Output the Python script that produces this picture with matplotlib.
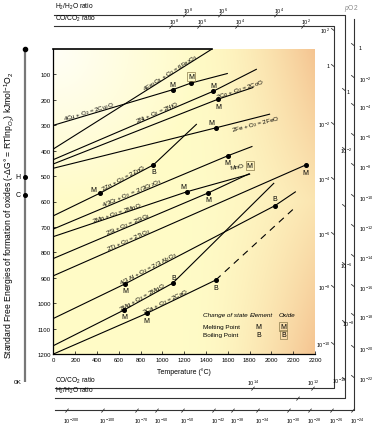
import numpy as np
import matplotlib
matplotlib.use("Agg")
import matplotlib.pyplot as plt

plt.rcParams['font.family'] = ['Liberation Sans', 'DejaVu Sans']
plt.rcParams['mathtext.fontset'] = 'custom'
plt.rcParams['mathtext.rm'] = 'Liberation Sans'
plt.rcParams['mathtext.it'] = 'Liberation Sans:italic'

# ---- data: temperature (C) / -dG (kJ per mol O2) along each oxide line ----
t_cu = [0, 1095, 1261, 1600];        g_cu = [300, 160, 134, 96]
t_fe3o4 = [0, 1455];                 g_fe3o4 = [393, 0]
t_ni = [0, 1467, 1866];              g_ni = [435, 166, 79]
t_co = [0, 1513, 1835];              g_co = [452, 197, 151]
t_fe = [0, 1492, 1988];              g_fe = [469, 310, 256]
t_zn = [0, 427, 917, 1315];          g_zn = [656, 567, 456, 295]
t_cr = [0, 1600, 1826];              g_cr = [708, 420, 383]
t_mn = [0, 1229, 1805];              g_mn = [738, 561, 492]
t_si = [0, 1421, 1800];              g_si = [824, 566, 490]
t_ti = [0, 2316];                    g_ti = [892, 456]
t_al = [0, 657, 2034, 2224];         g_al = [1060, 924, 616, 561]
t_mg = [0, 647, 1095, 2025];         g_mg = [1167, 1027, 921, 527]
t_ca = [0, 856, 1489];               g_ca = [1200, 1040, 909]
t_ca_dash = [1489, 2211];            g_ca_dash = [909, 626]

# change-of-state points: (T, G, letter, boxed)
melt_pts = [(1095, 160, 'M', False), (1261, 134, 'M', True), (1467, 166, 'M', False),
            (1513, 197, 'M', False), (1492, 310, 'M', False), (427, 567, 'M', False),
            (917, 456, 'B', False), (1600, 420, 'M', False), (1229, 561, 'M', False),
            (1421, 566, 'M', False), (2316, 456, 'M', False), (657, 924, 'M', False),
            (2034, 616, 'B', False), (647, 1027, 'M', False), (1095, 921, 'B', False),
            (856, 1040, 'M', False), (1489, 909, 'B', False)]
# label offsets (points) for the letters
melt_off = [(0, 4), (0, 5), (0, 4), (0, -5), (-3.6, 3.6), (-5, 2.4), (0, -4.5), (0, -5),
            (-3, 4), (0, -5), (0, -5.5), (0, -5), (0, 5), (0, -5), (1, 4.3), (0, -5), (0, -5.5)]

reactions = ['4Cu + O$_2$ = 2Cu$_2$O', '4Fe$_3$O$_4$ + O$_2$ = 6Fe$_2$O$_3$',
             '2Ni + O$_2$ = 2NiO', '2Co + O$_2$ = 2CoO', '2Fe + O$_2$ = 2FeO',
             '2Zn + O$_2$ = 2ZnO', '4/3Cr + O$_2$ =  2/3Cr$_2$O$_3$', '2Mn + O$_2$ = 2MnO',
             '2Si + O$_2$ = 2SiO$_2$', '2Ti + O$_2$ = 2TiO$_2$',
             '4/3 Al + O$_2$ = 2/3 Al$_2$O$_3$', '2Mg + O$_2$ = 2MgO', '2Ca + O$_2$ = 2CaO']
react_t = [335, 1088, 960, 1728, 1841, 657, 733, 595, 693, 702, 886, 831, 1045]
react_side = [1, 1, 1, 1, -1, 1, 1, 1, 1, 1, 1, 1, 1]

xticks = [0, 200, 400, 600, 800, 1000, 1200, 1400, 1600, 1800, 2000, 2200, 2400]
xtick_labels = ['0', '200', '400', '600', '800', '1000', '1200', '1400', '1600',
                '1800', '2000', '2200', '2200']
yticks = [100, 200, 300, 400, 500, 600, 700, 800, 900, 1000, 1100, 1200]

W, H = 377, 431
fig = plt.figure(figsize=(W / 100, H / 100), dpi=100)
fig.patch.set_facecolor('white')

# overlay in pixel coordinates for the nomogram scales
ov = fig.add_axes([0, 0, 1, 1])
ov.set_xlim(0, W)
ov.set_ylim(H, 0)
ov.axis('off')

ax = fig.add_axes([53.5 / W, 1 - 355 / H, (315 - 53.5) / W, (355 - 50) / H])
ax.set_xlim(0, 2400)
ax.set_ylim(1200, 0)

# background gradient
nx, ny = 200, 200
xx, yy = np.meshgrid(np.linspace(0, 1, nx), np.linspace(0, 1, ny))
base = np.array([1.0, 0.985, 0.78])
white = np.array([1.0, 1.0, 0.97])
peach = np.array([0.96, 0.77, 0.57])
w = np.clip(1 - np.sqrt((xx / 0.55) ** 2 + (yy / 0.5) ** 2), 0, 1)[..., None]
p = (np.clip((xx - 0.5) / 0.5, 0, 1) ** 1.8 * (0.4 + 0.6 * np.abs(yy - 0.5) * 2))[..., None]
img = base * (1 - w) + white * w
img = img * (1 - p) + peach * p
ax.imshow(img, extent=[0, 2400, 1200, 0], aspect='auto', zorder=0)

line_sets = [(t_cu, g_cu), (t_fe3o4, g_fe3o4), (t_ni, g_ni), (t_co, g_co), (t_fe, g_fe),
             (t_zn, g_zn), (t_cr, g_cr), (t_mn, g_mn), (t_si, g_si), (t_ti, g_ti),
             (t_al, g_al), (t_mg, g_mg), (t_ca, g_ca)]
lw = 0.8
for t, g in line_sets:
    ax.plot(t, g, color='black', lw=lw, zorder=3, solid_capstyle='butt')
ax.plot(t_ca_dash, g_ca_dash, color='black', lw=lw, ls=(0, (6, 5)), zorder=3)
ax.plot([0, t_fe3o4[1]], [0, 0], color='black', lw=1.2, zorder=3, clip_on=False)

for (t, g, s, boxed), (dx, dy) in zip(melt_pts, melt_off):
    ax.plot(t, g, 'o', color='black', ms=2.6, zorder=4)
    kw = dict(fontsize=5, ha='center', va='center', zorder=5)
    if boxed:
        kw['bbox'] = dict(boxstyle='square,pad=0.15', fc='none', ec='#8a7a4a', lw=0.5)
    ax.annotate(s, (t, g), xytext=(dx, dy), textcoords='offset points', **kw)


def label_on_line(t, g, tq, txt, side):
    tt = np.array(t, float)
    gg = np.array(g, float)
    i = int(np.clip(np.searchsorted(tt, tq) - 1, 0, len(tt) - 2))
    p0 = ax.transData.transform((tt[i], gg[i]))
    p1 = ax.transData.transform((tt[i + 1], gg[i + 1]))
    a = np.arctan2(p1[1] - p0[1], p1[0] - p0[0])
    gq = np.interp(tq, tt, gg)
    pq = ax.transData.transform((tq, gq))
    d = 1.3 if side > 0 else 1.6
    n = np.array([-np.sin(a), np.cos(a)]) * d * side
    pos = ax.transData.inverted().transform(pq + n)
    ax.text(pos[0], pos[1], txt, fontsize=4.4, rotation=np.degrees(a), rotation_mode='anchor',
            ha='center', va='baseline' if side > 0 else 'top', zorder=5)


for txt, tq, side, (t, g) in zip(reactions, react_t, react_side, line_sets):
    label_on_line(t, g, tq, txt, side)

ax.text(1685, 462, 'MnO', fontsize=4.6, ha='center', va='center', rotation=10, zorder=5)
ax.text(1800, 458, 'M', fontsize=5, ha='center', va='center', zorder=5,
        bbox=dict(boxstyle='square,pad=0.15', fc='none', ec='#8a7a4a', lw=0.5))

# legend block
ax.text(1370, 1045, 'Change of state', fontsize=4.6, style='italic', va='center')
ax.text(1800, 1045, 'Element', fontsize=4.6, style='italic', va='center')
ax.text(2070, 1045, 'Oxide', fontsize=4.6, style='italic', va='center')
ax.text(1370, 1090, 'Melting Point', fontsize=4.6, va='center')
ax.text(1370, 1122, 'Boiling Point', fontsize=4.6, va='center')
ax.text(1880, 1090, 'M', fontsize=5, ha='center', va='center')
ax.text(1880, 1122, 'B', fontsize=5, ha='center', va='center')
for gy, s in [(1090, 'M'), (1122, 'B')]:
    ax.text(2110, gy, s, fontsize=5, ha='center', va='center',
            bbox=dict(boxstyle='square,pad=0.15', fc='none', ec='#8a7a4a', lw=0.5))

ax.set_xticks(xticks)
ax.set_xticklabels(xtick_labels, fontsize=4.3)
ax.set_yticks(yticks)
ax.set_yticklabels([str(v) for v in yticks], fontsize=4.3)
ax.tick_params(direction='in', length=2, width=0.5, pad=2)
ax.spines['top'].set_visible(False)
ax.spines['right'].set_visible(False)
for s in ['left', 'bottom']:
    ax.spines[s].set_linewidth(0.9)
ax.set_xlabel('Temperature (°C)', fontsize=5, labelpad=2)
ax.xaxis.set_label_coords(0.5, -0.045)

# ---- nomogram frames ----
fc = '#333333'
flw = 0.8
ov.plot([54, 345, 345, 55], [15.7, 15.7, 399, 399], color=fc, lw=flw)
ov.plot([54, 334, 334, 55], [27, 27, 389, 389], color=fc, lw=flw)
ov.plot([354, 354, 55], [20, 411, 411], color=fc, lw=flw)

ov.text(55, 12, 'H$_2$/H$_2$O ratio', fontsize=4.8, va='bottom')
ov.text(55, 24, 'CO/CO$_2$ ratio', fontsize=4.8, va='bottom')
ov.text(55, 386, 'CO/CO$_2$ ratio', fontsize=4.8, va='bottom')
ov.text(55, 396, 'H$_2$/H$_2$O ratio', fontsize=4.8, va='bottom')
ov.text(351, 9, '$p$O2', fontsize=4.8, color='#888888', ha='center', va='center')

fs = 3.9


def slash(x, y):
    ov.plot([x - 1.3, x + 1.3], [y + 2.2, y - 1.0], color=fc, lw=0.6)


def bslash(x, y):
    ov.plot([x - 2.5, x], [y - 1.5, y + 0.5], color=fc, lw=0.6)


top_h2_x = [185, 220, 276]
top_h2_lab = ['$10^{8}$', '$10^{6}$', '$10^{4}$']
for x, s in zip(top_h2_x, top_h2_lab):
    slash(x, 15.7)
    ov.text(x + 3, 11, s, fontsize=fs, ha='center', va='center')
top_co_x = [171, 199, 237, 303]
top_co_lab = ['$10^{8}$', '$10^{6}$', '$10^{4}$', '$10^{2}$']
for x, s in zip(top_co_x, top_co_lab):
    slash(x, 27)
    ov.text(x + 3, 22.5, s, fontsize=fs, ha='center', va='center')

co_right_y = [31, 67, 125, 180, 235, 288, 345]
co_right_lab = ['$10^{2}$', '1', '$10^{-2}$', '$10^{-4}$', '$10^{-6}$', '$10^{-8}$', '$10^{-10}$']
for y, s in zip(co_right_y, co_right_lab):
    bslash(334, y)
    ov.text(330, y, s, fontsize=fs, ha='right', va='center')

h2_right_y = [91, 150, 207, 265, 323, 380]
h2_right_lab = ['1', '$10^{-2}$', '', '$10^{-6}$', '$10^{-8}$', '$10^{-10}$']
h2_right_x = [348, 346, 346, 346, 348, 339]
for x, y, s in zip(h2_right_x, h2_right_y, h2_right_lab):
    bslash(345, y)
    ov.text(x, y + 1, s, fontsize=fs, ha='center', va='center')

po2_y = [48, 80, 108, 138, 168, 199, 229, 259, 289, 318, 350, 380]
po2_lab = ['1', '$10^{-2}$', '$10^{-4}$', '$10^{-6}$', '$10^{-8}$', '$10^{-10}$', '$10^{-12}$',
           '$10^{-14}$', '$10^{-16}$', '$10^{-18}$', '$10^{-20}$', '$10^{-22}$']
for y, s in zip(po2_y, po2_lab):
    bslash(354, y - 2)
    ov.text(359, y, s, fontsize=fs, ha='left', va='center')

bot_co_x = [253, 313]
bot_co_lab = ['$10^{14}$', '$10^{12}$']
for x, s in zip(bot_co_x, bot_co_lab):
    slash(x, 389)
    ov.text(x, 383, s, fontsize=fs, ha='center', va='center')
slash(298, 399)

bot_po2_x = [67, 103, 137, 157, 183, 214, 233, 258, 289, 310, 332, 353]
bot_po2_lab = ['$10^{-200}$', '$10^{-100}$', '$10^{-70}$', '$10^{-60}$', '$10^{-50}$',
               '$10^{-42}$', '$10^{-38}$', '$10^{-34}$', '$10^{-30}$', '$10^{-28}$',
               '$10^{-26}$', '$10^{-24}$']
for x, s in zip(bot_po2_x, bot_po2_lab):
    slash(x, 411)
    ov.text(x + 4, 421, s, fontsize=fs, ha='center', va='center')

# left RT ln pO2 origin line
ov.plot([25, 25], [50, 383], color='#777777', lw=1.6, solid_capstyle='butt')
ov.plot([25], [50], 'o', color='black', ms=3)
ov.plot([25, 25], [178, 196], 'o', color='black', ms=2.6, ls='none')
ov.text(21, 178, 'H', fontsize=5, ha='right', va='center')
ov.text(21, 196, 'C', fontsize=5, ha='right', va='center')
ov.text(22, 383, '0K', fontsize=4.6, ha='right', va='center')
ov.text(10, 215, 'Standard Free Energies of formation of oxides (-ΔG° = RTlnp$_{O_2}$) kJmol$^{-1}$O$_2$',
        fontsize=6.2, rotation=90, ha='center', va='center')

fig.savefig('out.png', dpi=100)
